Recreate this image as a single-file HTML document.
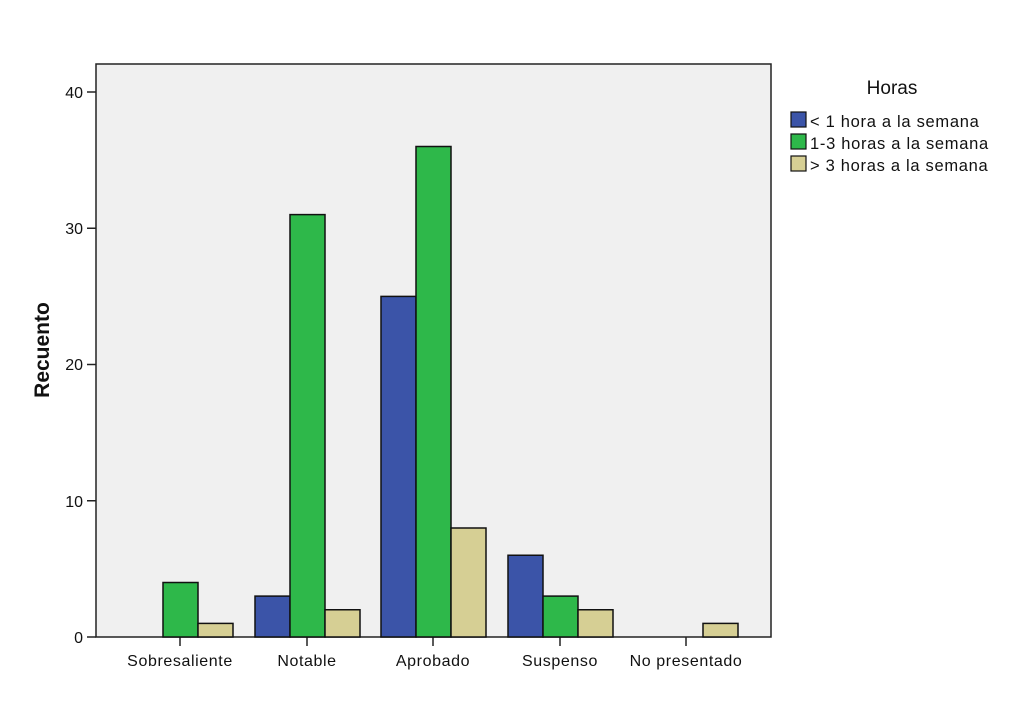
<!DOCTYPE html>
<html><head><style>body{margin:0;background:#fff}svg{display:block}text{font-family:"Liberation Sans",Arial,sans-serif;fill:#111}</style></head>
<body>
<svg width="1024" height="714" viewBox="0 0 1024 714" xmlns="http://www.w3.org/2000/svg">
<rect x="96" y="64" width="675" height="573" fill="#f0f0f0" stroke="#222" stroke-width="1.5"/>
<g stroke="#222" stroke-width="1.5">
<line x1="87" y1="637" x2="96" y2="637"/><line x1="87" y1="500.75" x2="96" y2="500.75"/><line x1="87" y1="364.5" x2="96" y2="364.5"/><line x1="87" y1="228.25" x2="96" y2="228.25"/><line x1="87" y1="92" x2="96" y2="92"/>
<line x1="180" y1="637" x2="180" y2="646"/><line x1="307" y1="637" x2="307" y2="646"/><line x1="433" y1="637" x2="433" y2="646"/><line x1="560" y1="637" x2="560" y2="646"/><line x1="686" y1="637" x2="686" y2="646"/>
</g>
<g font-size="16" text-anchor="end">
<text x="83" y="643">0</text><text x="83" y="507">10</text><text x="83" y="370">20</text><text x="83" y="234">30</text><text x="83" y="98">40</text>
</g>
<g font-size="16" text-anchor="middle" letter-spacing="0.6">
<text x="180" y="666">Sobresaliente</text><text x="307" y="666">Notable</text><text x="433" y="666">Aprobado</text><text x="560" y="666">Suspenso</text><text x="686" y="666">No presentado</text>
</g>
<text transform="translate(49,350) rotate(-90)" font-size="21" font-weight="bold" text-anchor="middle">Recuento</text>
<g stroke="#111" stroke-width="1.5">
<rect x="163" y="582.5" width="35" height="54.5" fill="#2eb84a"/>
<rect x="198" y="623.4" width="35" height="13.6" fill="#d6cf94"/>
<rect x="255" y="596.1" width="35" height="40.9" fill="#3b54a8"/>
<rect x="290" y="214.6" width="35" height="422.4" fill="#2eb84a"/>
<rect x="325" y="609.75" width="35" height="27.25" fill="#d6cf94"/>
<rect x="381" y="296.4" width="35" height="340.6" fill="#3b54a8"/>
<rect x="416" y="146.5" width="35" height="490.5" fill="#2eb84a"/>
<rect x="451" y="528" width="35" height="109" fill="#d6cf94"/>
<rect x="508" y="555.25" width="35" height="81.75" fill="#3b54a8"/>
<rect x="543" y="596.1" width="35" height="40.9" fill="#2eb84a"/>
<rect x="578" y="609.75" width="35" height="27.25" fill="#d6cf94"/>
<rect x="703" y="623.4" width="35" height="13.6" fill="#d6cf94"/>
</g>
<text x="892" y="94" font-size="19" text-anchor="middle">Horas</text>
<g stroke="#111" stroke-width="1.2">
<rect x="791" y="112" width="15" height="15" fill="#3b54a8"/>
<rect x="791" y="134" width="15" height="15" fill="#2eb84a"/>
<rect x="791" y="156" width="15" height="15" fill="#d6cf94"/>
</g>
<g font-size="16.5" letter-spacing="0.7">
<text x="810" y="127">&lt; 1 hora a la semana</text>
<text x="810" y="149">1-3 horas a la semana</text>
<text x="810" y="171">&gt; 3 horas a la semana</text>
</g>
</svg>
</body></html>
